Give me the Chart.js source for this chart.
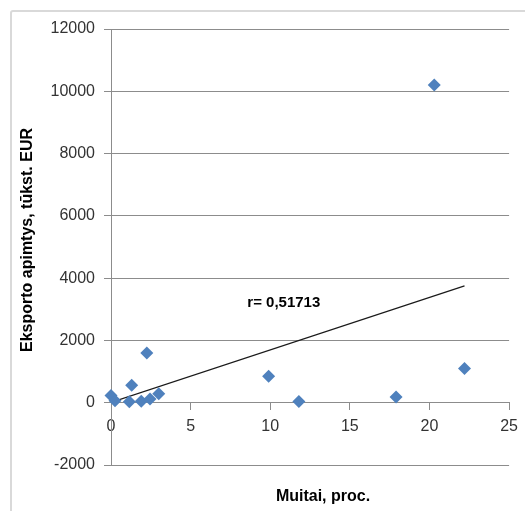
<!DOCTYPE html>
<html>
<head>
<meta charset="utf-8">
<script src="https://cdn.jsdelivr.net/npm/chart.js@4"></script>
<style>
  body { margin: 0; background: #fff; }
  #wrap { position: relative; width: 525px; height: 511px; overflow: hidden; }
  #frame { position: absolute; left: 10px; top: 10px; width: 600px; height: 600px; border: 2px solid #d9d9d9; border-radius: 3px; }
  #myChart { position: absolute; left: 0; top: 0; }
</style>
</head>
<body>
<div id="wrap">
  <div id="frame"></div>
  <canvas id="myChart" width="525" height="511"></canvas>
</div>
<script>
// data
const tariffs = [0, 0.25, 1.15, 1.3, 1.9, 2.25, 2.45, 3.0, 9.9, 11.8, 17.9, 20.3, 22.2];
const exportVolume = [230, 60, 30, 560, 50, 1600, 120, 290, 850, 40, 180, 10200, 1100];
const trendX = [0, 22.2];
const trendY = [10, 3750];
const xTicks = [0, 5, 10, 15, 20, 25];
const yTicks = [-2000, 0, 2000, 4000, 6000, 8000, 10000, 12000];
const xTitle = 'Muitai, proc.';
const yTitle = 'Eksporto apimtys, tūkst. EUR';
const rLabel = 'r= 0,51713';

const fontFamily = "'Liberation Sans', Arial, sans-serif";
Chart.defaults.font.family = fontFamily;

const points = tariffs.map((x, i) => ({ x: x, y: exportVolume[i] }));
const trend = trendX.map((x, i) => ({ x: x, y: trendY[i] }));

// titles and r label are drawn by hand so they sit where Excel put them
const textPlugin = {
    id: 'texts',
    afterDraw(chart) {
        const ctx = chart.ctx;
        const { x, y } = chart.scales;
        ctx.save();
        ctx.fillStyle = '#000';
        ctx.font = 'bold 16px ' + fontFamily;
        ctx.textAlign = 'center';
        ctx.textBaseline = 'middle';
        ctx.fillText(xTitle, 323, 497);

        ctx.save();
        ctx.translate(28, 240);
        ctx.rotate(-Math.PI / 2);
        ctx.fillText(yTitle, 0, 0);
        ctx.restore();

        ctx.font = 'bold 15px ' + fontFamily;
        ctx.textAlign = 'left';
        ctx.fillText(rLabel, x.getPixelForValue(8.56), y.getPixelForValue(3220));
        ctx.restore();
    }
};

const config = {
    type: 'scatter',
    data: {
        datasets: [{
            label: 'Eksportas',
            data: points,
            pointStyle: 'rectRot',
            pointRadius: 6.5,
            backgroundColor: '#4f81bd',
            borderColor: '#4f81bd',
            borderWidth: 0,
            clip: false
        }, {
            label: 'Trend',
            type: 'line',
            data: trend,
            borderColor: '#1a1a1a',
            borderWidth: 1.2,
            pointRadius: 0,
            fill: false
        }]
    },
    options: {
        responsive: false,
        animation: false,
        layout: { padding: { left: 0, right: 14, top: 29, bottom: 46 } },
        scales: {
            x: {
                type: 'linear',
                position: { y: 0 },
                min: xTicks[0],
                max: xTicks[xTicks.length - 1],
                afterBuildTicks: s => { s.ticks = xTicks.map(v => ({ value: v })); },
                ticks: { color: '#333', font: { size: 16 }, padding: 7, callback: v => String(v) },
                grid: { drawOnChartArea: false, tickLength: 7, color: '#8c8c8c' },
                border: { color: '#8c8c8c' }
            },
            y: {
                min: yTicks[0],
                max: yTicks[yTicks.length - 1],
                afterBuildTicks: s => { s.ticks = yTicks.map(v => ({ value: v })); },
                afterFit: s => { s.width = 111; },
                ticks: { color: '#333', font: { size: 16 }, padding: 9, callback: v => String(v) },
                grid: { color: '#8c8c8c', tickLength: 7 },
                border: { color: '#8c8c8c' }
            }
        },
        plugins: {
            legend: { display: false },
            tooltip: { enabled: false }
        }
    },
    plugins: [textPlugin]
};

var myChart = new Chart(document.getElementById('myChart'), config);
</script>
</body>
</html>
